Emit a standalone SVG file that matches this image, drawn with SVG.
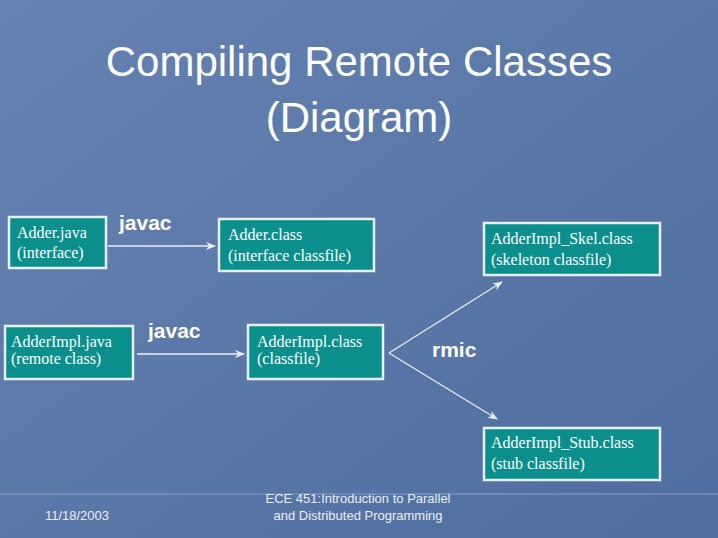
<svg xmlns="http://www.w3.org/2000/svg" width="718" height="538" viewBox="0 0 718 538">
<defs>
<linearGradient id="bg" x1="0" y1="0" x2="1" y2="1"><stop offset="0" stop-color="#6582b2"/><stop offset="1" stop-color="#4f6d9e"/></linearGradient>
<marker id="ah" markerWidth="10" markerHeight="8" refX="9" refY="4" orient="auto" markerUnits="userSpaceOnUse"><path d="M0,0 L10,4 L0,8 L3,4 Z" fill="#e8eef6"/></marker>
</defs>
<style>
.box{fill:#0a8f8c;stroke:#e6f0f0;stroke-width:2.5}
.t{font-family:"Liberation Serif",serif;font-size:16px;fill:#fff}
.l{font-family:"Liberation Sans",sans-serif;font-size:21px;font-weight:bold;fill:#fff}
.c{stroke:#e8eef6;stroke-width:1.3;fill:none}
.f{font-family:"Liberation Sans",sans-serif;font-size:13px;fill:#e8eef6}
</style>
<rect width="718" height="538" fill="url(#bg)"/>
<text x="359" y="76" text-anchor="middle" font-family="Liberation Sans,sans-serif" font-size="42" fill="#fff">Compiling Remote Classes</text>
<text x="359" y="132" text-anchor="middle" font-family="Liberation Sans,sans-serif" font-size="42" fill="#fff">(Diagram)</text>
<g id="adder-java"><rect class="box" x="9" y="217" width="97" height="51"/><text class="t" x="17" y="238">Adder.java</text><text class="t" x="17" y="258">(interface)</text></g>
<g id="adder-class"><rect class="box" x="219" y="219" width="155" height="52"/><text class="t" x="228" y="240">Adder.class</text><text class="t" x="228" y="261">(interface classfile)</text></g>
<g id="impl-java"><rect class="box" x="5" y="326" width="128" height="53"/><text class="t" x="11" y="347">AdderImpl.java</text><text class="t" x="11" y="364">(remote class)</text></g>
<g id="impl-class"><rect class="box" x="248" y="325" width="135" height="54"/><text class="t" x="257" y="347">AdderImpl.class</text><text class="t" x="257" y="364">(classfile)</text></g>
<g id="skel"><rect class="box" x="484" y="223" width="176" height="52"/><text class="t" x="491" y="244">AdderImpl_Skel.class</text><text class="t" x="491" y="265">(skeleton classfile)</text></g>
<g id="stub"><rect class="box" x="484" y="428" width="176" height="52"/><text class="t" x="491" y="448">AdderImpl_Stub.class</text><text class="t" x="491" y="469">(stub classfile)</text></g>
<g id="connectors">
<line class="c" x1="108" y1="246" x2="215" y2="246" marker-end="url(#ah)"/>
<line class="c" x1="137" y1="354" x2="244" y2="354" marker-end="url(#ah)"/>
<line class="c" x1="389" y1="353" x2="502" y2="282" marker-end="url(#ah)"/>
<line class="c" x1="389" y1="353" x2="497" y2="419" marker-end="url(#ah)"/>
<text class="l" x="119" y="230">javac</text>
<text class="l" x="148" y="338">javac</text>
<text class="l" x="432" y="357">rmic</text>
</g>
<line x1="0" y1="494" x2="718" y2="494" stroke="#8aa0c4" stroke-width="1"/>
<text class="f" x="77" y="520" text-anchor="middle">11/18/2003</text>
<text class="f" x="358" y="503" text-anchor="middle">ECE 451:Introduction to Parallel</text>
<text class="f" x="358" y="520" text-anchor="middle">and Distributed Programming</text>
</svg>
